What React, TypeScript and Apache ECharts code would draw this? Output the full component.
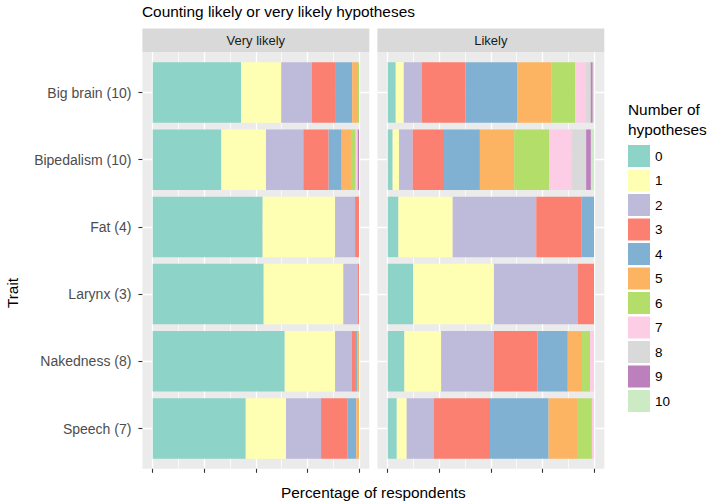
import React, { useEffect, useRef } from "react";
import * as echarts from "echarts";

// ---------- data ----------
const traits = [
  "Big brain (10)",
  "Bipedalism (10)",
  "Fat (4)",
  "Larynx (3)",
  "Nakedness (8)",
  "Speech (7)",
];
const hypothesisCounts = ["0", "1", "2", "3", "4", "5", "6", "7", "8", "9", "10"];
const facetNames = ["Very likely", "Likely"];

// percentage of respondents per trait, indexed by number of hypotheses (0..10)
const veryLikelyBigBrain = [42.8, 19.5, 14.9, 11.6, 7.9, 2.8, 0.5, 0, 0, 0, 0];
const veryLikelyBipedalism = [33.3, 21.6, 18.1, 12.3, 6.3, 4.5, 2.3, 1.0, 0, 0.6, 0];
const veryLikelyFat = [53.3, 35.1, 9.7, 1.9, 0, 0, 0, 0, 0, 0, 0];
const veryLikelyLarynx = [53.8, 38.6, 6.9, 0.7, 0, 0, 0, 0, 0, 0, 0];
const veryLikelyNakedness = [64.0, 24.4, 8.2, 1.9, 0.8, 0.7, 0, 0, 0, 0, 0];
const veryLikelySpeech = [45.1, 19.5, 17.0, 12.9, 4.2, 1.3, 0, 0, 0, 0, 0];

const likelyBigBrain = [3.9, 3.9, 8.7, 21.3, 24.9, 16.8, 11.4, 5.2, 2.3, 1.0, 0.6];
const likelyBipedalism = [2.4, 3.1, 6.6, 15.2, 17.4, 16.6, 17.1, 10.7, 7.1, 2.3, 1.5];
const likelyFat = [5.2, 26.3, 40.5, 21.8, 6.2, 0, 0, 0, 0, 0, 0];
const likelyLarynx = [12.4, 39.1, 40.7, 7.8, 0, 0, 0, 0, 0, 0, 0];
const likelyNakedness = [8.1, 17.8, 25.4, 21.3, 14.7, 6.9, 3.9, 1.9, 0, 0, 0];
const likelySpeech = [4.4, 4.8, 13.1, 27.3, 28.4, 14.2, 6.8, 1.0, 0, 0, 0];

const veryLikely = [
  veryLikelyBigBrain,
  veryLikelyBipedalism,
  veryLikelyFat,
  veryLikelyLarynx,
  veryLikelyNakedness,
  veryLikelySpeech,
];
const likely = [likelyBigBrain, likelyBipedalism, likelyFat, likelyLarynx, likelyNakedness, likelySpeech];

const set3 = [
  "#8DD3C7", "#FFFFB3", "#BEBADA", "#FB8072", "#80B1D3", "#FDB462",
  "#B3DE69", "#FCCDE5", "#D9D9D9", "#BC80BD", "#CCEBC5",
];

// ---------- layout ----------
const FONT = "'Liberation Sans', Arial, Helvetica, sans-serif";
const PANEL_TOP = 52.2;
const PANEL_H = 416.6;
const UNIT = 67.2;
const FIRST_CENTER = 92.5;
const PANEL_W = 226.9;
const DATA_W = 206.3;
const PANEL_LEFTS = [142.4, 377.4];
const STRIP_TOP = 28.5;

export default function App() {
  const ref = useRef<HTMLDivElement>(null);

  useEffect(() => {
    if (!ref.current) return;
    const chart = echarts.init(ref.current, undefined, { renderer: "svg" });

    const grids: any[] = [];
    const xAxes: any[] = [];
    const yAxes: any[] = [];
    const series: any[] = [];
    const graphics: any[] = [];

    [veryLikely, likely].forEach((rows, p) => {
      const pl = PANEL_LEFTS[p];
      const dataLeft = pl + (PANEL_W - DATA_W) / 2;
      const base = p * 3;

      // grid 0: bars
      grids.push({
        left: dataLeft,
        width: DATA_W,
        top: FIRST_CENTER - UNIT / 2,
        height: UNIT * traits.length,
        containLabel: false,
      });
      xAxes.push({ gridIndex: base, type: "value", min: 0, max: 100, show: false });
      yAxes.push({ gridIndex: base, type: "category", data: traits, inverse: true, show: false });

      // grid 1: horizontal gridlines at category centres (full panel width) + y labels
      grids.push({
        left: pl,
        width: PANEL_W,
        top: FIRST_CENTER,
        height: UNIT * (traits.length - 1),
      });
      xAxes.push({ gridIndex: base + 1, type: "value", min: 0, max: 1, show: false });
      yAxes.push({
        gridIndex: base + 1,
        type: "category",
        data: traits,
        inverse: true,
        boundaryGap: false,
        axisLine: { show: false },
        axisTick: { show: p === 0, length: 4, lineStyle: { color: "#333333", width: 1.1 } },
        axisLabel: {
          show: p === 0,
          margin: 11,
          fontSize: 14,
          color: "#4D4D4D",
          fontFamily: FONT,
        },
        splitLine: { show: true, lineStyle: { color: "#FFFFFF", width: 1.3 } },
      });

      // grid 2: vertical gridlines (full panel height) + x ticks
      grids.push({ left: dataLeft, width: DATA_W, top: PANEL_TOP, height: PANEL_H });
      xAxes.push({
        gridIndex: base + 2,
        type: "value",
        min: 0,
        max: 100,
        interval: 25,
        axisLine: { show: false },
        axisTick: { show: true, length: 4, lineStyle: { color: "#333333", width: 1.1 } },
        axisLabel: { show: false },
        splitLine: { show: true, lineStyle: { color: "#FFFFFF", width: 1.3 } },
        minorTick: { show: false, splitNumber: 2 },
        minorSplitLine: { show: true, lineStyle: { color: "#FFFFFF", width: 0.7 } },
      });
      yAxes.push({ gridIndex: base + 2, type: "value", min: 0, max: 1, show: false });

      hypothesisCounts.forEach((name, k) => {
        series.push({
          type: "bar",
          name,
          stack: "facet" + p,
          xAxisIndex: base,
          yAxisIndex: base,
          barCategoryGap: "10%",
          itemStyle: { color: set3[k] },
          emphasis: { disabled: true },
          data: rows.map((r) => r[k]),
        });
      });

      // panel background and strip
      graphics.push({
        type: "rect",
        z: -10,
        silent: true,
        shape: { x: pl, y: PANEL_TOP, width: PANEL_W, height: PANEL_H },
        style: { fill: "#EBEBEB" },
      });
      graphics.push({
        type: "rect",
        z: -10,
        silent: true,
        shape: { x: pl, y: STRIP_TOP, width: PANEL_W, height: PANEL_TOP - STRIP_TOP },
        style: { fill: "#D9D9D9" },
      });
      graphics.push({
        type: "text",
        z: 5,
        silent: true,
        x: pl + PANEL_W / 2,
        y: (STRIP_TOP + PANEL_TOP) / 2,
        style: {
          text: facetNames[p],
          fill: "#1A1A1A",
          font: `13px ${FONT}`,
          textAlign: "center",
          textVerticalAlign: "middle",
        },
      });
    });

    // titles
    graphics.push({
      type: "text",
      silent: true,
      x: 142,
      y: 11,
      style: {
        text: "Counting likely or very likely hypotheses",
        fill: "#000000",
        font: `15.4px ${FONT}`,
        textAlign: "left",
        textVerticalAlign: "middle",
      },
    });
    graphics.push({
      type: "text",
      silent: true,
      x: (PANEL_LEFTS[0] + PANEL_LEFTS[1] + PANEL_W) / 2,
      y: 492,
      style: {
        text: "Percentage of respondents",
        fill: "#000000",
        font: `15.4px ${FONT}`,
        textAlign: "center",
        textVerticalAlign: "middle",
      },
    });
    graphics.push({
      type: "text",
      silent: true,
      x: 12,
      y: 293,
      rotation: Math.PI / 2,
      style: {
        text: "Trait",
        fill: "#000000",
        font: `15.4px ${FONT}`,
        textAlign: "center",
        textVerticalAlign: "middle",
      },
    });
    graphics.push({
      type: "text",
      silent: true,
      x: 628,
      y: 100,
      style: {
        text: "Number of\nhypotheses",
        fill: "#000000",
        font: `15.4px ${FONT}`,
        lineHeight: 19.5,
        textAlign: "left",
        textVerticalAlign: "top",
      },
    });

    chart.setOption({
      animation: false,
      backgroundColor: "#FFFFFF",
      textStyle: { fontFamily: FONT },
      grid: grids,
      xAxis: xAxes,
      yAxis: yAxes,
      series,
      legend: {
        orient: "vertical",
        left: 628,
        top: 145,
        padding: 0,
        itemWidth: 22,
        itemHeight: 22,
        itemGap: 2.5,
        icon: "rect",
        selectedMode: false,
        data: hypothesisCounts,
        textStyle: { fontSize: 13.5, color: "#000000", fontFamily: FONT, padding: [0, 0, 0, 0] },
      },
      graphic: graphics,
    });

    return () => chart.dispose();
  }, []);

  return (
    <div
      ref={ref}
      style={{ position: "fixed", left: 0, top: 0, width: 709, height: 504, background: "#fff" }}
    />
  );
}
